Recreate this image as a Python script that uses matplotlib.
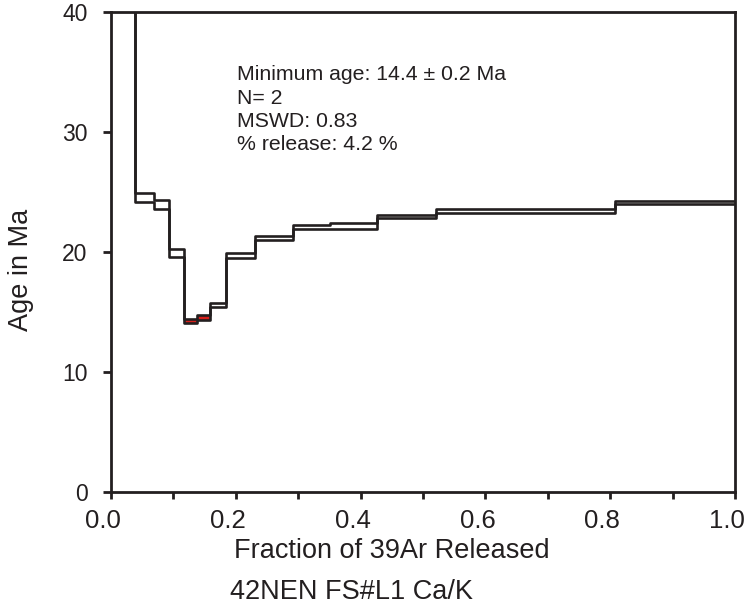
import matplotlib
matplotlib.use("Agg")
import matplotlib.pyplot as plt
import matplotlib.transforms as mtransforms
import numpy as np

# Step boundaries (cumulative fraction of 39Ar released)
frac_edges = [0.0, 0.0385, 0.0694, 0.0925, 0.117, 0.1373, 0.1587, 0.1843,
              0.2308, 0.2921, 0.3510, 0.4258, 0.5208, 0.8077, 1.0]
# Upper and lower (age ± error) envelopes for each step, Ma
age_upper = [48.0, 24.9, 24.33, 20.22, 14.42, 14.75, 15.72, 19.89,
             21.33, 22.25, 22.42, 23.08, 23.60, 24.28]
age_lower = [46.0, 24.15, 23.56, 19.61, 14.11, 14.33, 15.39, 19.47,
             21.0, 21.89, 21.89, 22.82, 23.27, 23.98]
min_age_steps = [4, 5]  # steps used for minimum age (highlighted)

x_ticks = [0.0, 0.2, 0.4, 0.6, 0.8, 1.0]
x_tick_labels = ["0.0", "0.2", "0.4", "0.6", "0.8", "1.0"]
y_ticks = [0, 10, 20, 30, 40]

annotation = ["Minimum age: 14.4 \u00b1 0.2 Ma", "N= 2", "MSWD: 0.83", "% release: 4.2 %"]

plt.rcParams['font.family'] = ['Liberation Sans', 'DejaVu Sans']
ink = '#231f20'

fig = plt.figure(figsize=(7.48, 6.05), dpi=100)
ax = fig.add_axes([111/748, 1-492/605, (735-111)/748, (492-12)/605])

# red fill for minimum-age steps
for i in min_age_steps:
    ax.fill_between([frac_edges[i], frac_edges[i+1]], age_lower[i], age_upper[i],
                    color='#d8201c', lw=0, zorder=2)

xs = np.array(frac_edges)
up = np.array(age_upper + [age_upper[-1]])
lo = np.array(age_lower + [age_lower[-1]])
ax.step(xs, up, where='post', color=ink, lw=1.9, zorder=3)
ax.step(xs, lo, where='post', color=ink, lw=1.9, zorder=3)

ax.set_xlim(0, 1)
ax.set_ylim(0, 40)
ax.set_xticks(x_ticks)
ax.set_xticklabels(x_tick_labels)
ax.set_xticks(np.arange(0.1, 1.0, 0.2), minor=True)
ax.set_yticks(y_ticks)

for s in ax.spines.values():
    s.set_color(ink)
    s.set_linewidth(2.0)

ax.tick_params(axis='both', which='both', direction='out', color=ink, width=2.0,
               labelcolor=ink)
ax.tick_params(axis='x', which='both', length=5, pad=7, labelsize=18.5)
ax.tick_params(axis='y', which='both', length=6, pad=11, labelsize=16.5)

shift = mtransforms.ScaledTranslation(-8/100, 0, fig.dpi_scale_trans)
for lab in ax.get_xticklabels():
    lab.set_transform(lab.get_transform() + shift)

ax.set_xlabel("Fraction of 39Ar Released", fontsize=19.5, color=ink, va='center')
ax.xaxis.set_label_coords((392-111)/624, -(551-492)/480)
ax.set_ylabel("Age in Ma", fontsize=19.5, color=ink, va='center')
ax.yaxis.set_label_coords(-(111-21)/624, (492-270)/480)

ax.text(0.202, 35.55, "\n".join(annotation), fontsize=15.3, color=ink,
        va='top', ha='left', linespacing=1.28)

fig.text(352/748, 1-592/605, "42NEN FS#L1 Ca/K", fontsize=19.5, color=ink,
         ha='center', va='center')

fig.savefig("out.png", dpi=100)
